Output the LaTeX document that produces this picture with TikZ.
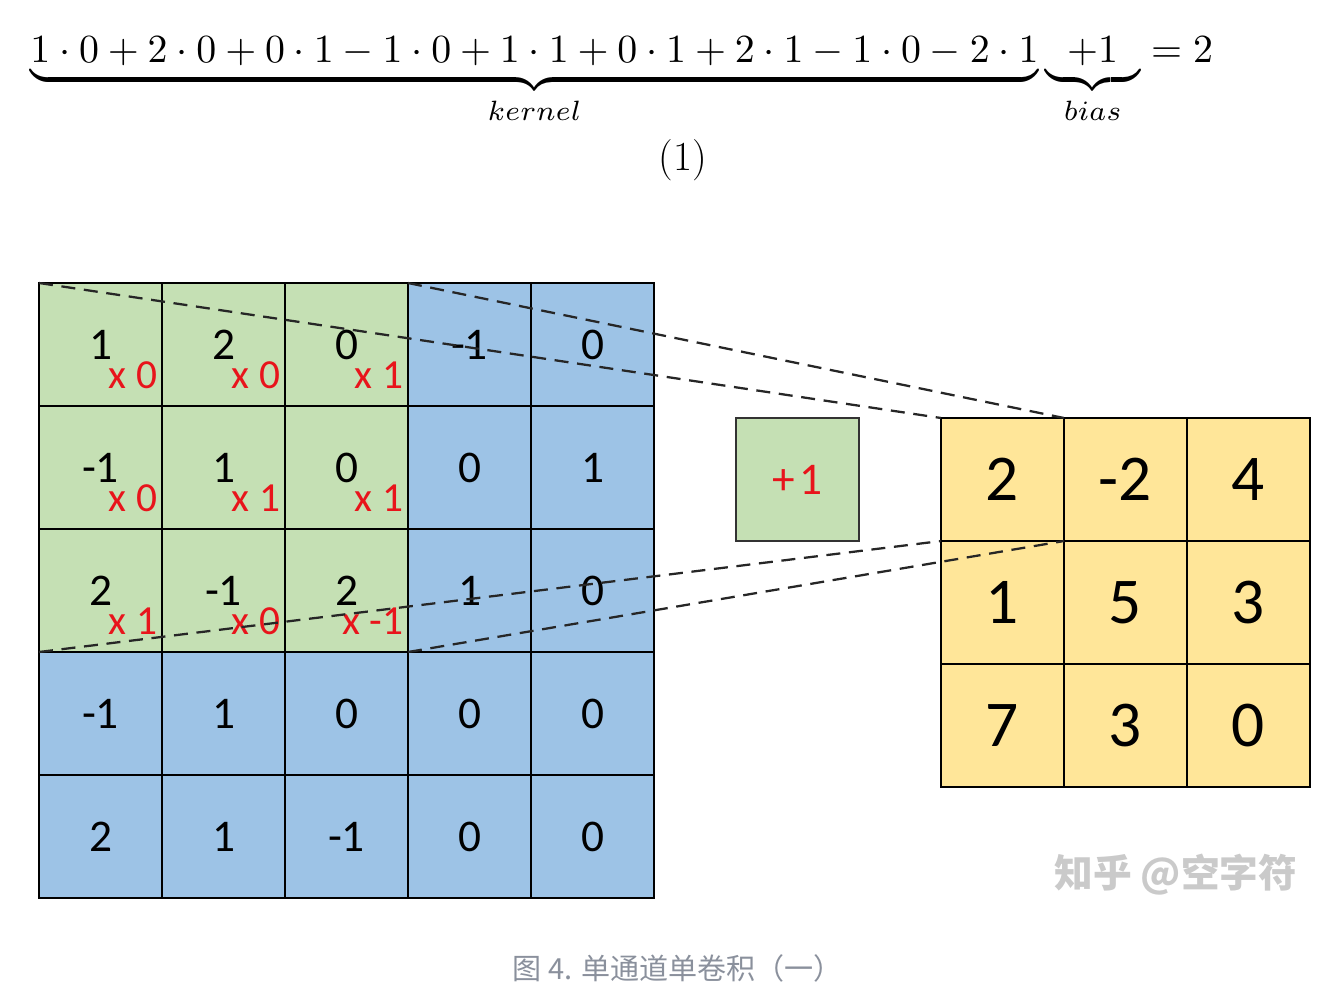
\documentclass[tikz,border=0pt]{standalone}
\usepackage{amsmath}
\usepackage{graphicx}
\usepackage{fontspec}
\newfontfamily\carl{Carlito}
\newfontfamily\cjkf{Noto Sans CJK SC}
\definecolor{kgreen}{HTML}{C5E0B4}
\definecolor{iblue}{HTML}{9DC3E6}
\definecolor{oyel}{HTML}{FFE699}
\definecolor{kred}{HTML}{E8141B}
\definecolor{capgray}{HTML}{8A909C}
\definecolor{wmgray}{HTML}{CACACA}
\tikzset{
  cellbox/.style={draw=black, line width=2.2pt, minimum width=92.25pt, minimum height=92.25pt,
    inner sep=0pt, outer sep=0pt, font=\carl\fontsize{34}{38}\selectfont},
  outcell/.style={cellbox, fill=oyel, font=\carl\fontsize{49}{54}\selectfont},
  multlbl/.style={anchor=base east, inner sep=0pt, text=kred, font=\carl\fontsize{31}{34}\selectfont},
  dl/.style={dashed, dash pattern=on 10.5pt off 6.5pt, line width=1.7pt, black!85}
}
\begin{document}
\begin{tikzpicture}[x=0.75pt,y=-0.75pt]
\useasboundingbox (0,0) rectangle (1338,996);
% equation
\node[inner sep=0pt, anchor=base west] (eq) at (30,62) {\resizebox{887pt}{!}{$\displaystyle
  \underbrace{1\cdot0+2\cdot0+0\cdot1-1\cdot0+1\cdot1+0\cdot1+2\cdot1-1\cdot0-2\cdot1}_{kernel}
  \underbrace{\hspace{0.55em}+1\hspace{0.55em}}_{bias}=2$}};
\node[inner sep=0pt, font=\fontsize{31}{36}\selectfont] (eqnum) at (683,160) {(1)};
% input grid
\foreach \rowvals [count=\r from 0] in {{1,2,0,-1,0},{-1,1,0,0,1},{2,-1,2,1,0},{-1,1,0,0,0},{2,1,-1,0,0}} {
  \foreach \v [count=\c from 0] in \rowvals {
    \def\cellcol{iblue}
    \ifnum\r<3 \ifnum\c<3 \def\cellcol{kgreen}\fi\fi
    \node[cellbox, fill=\cellcol] (in-\r-\c) at ({100.5+123*\c},{344.5+123*\r}) {\v};
  }
}
% kernel multipliers
\foreach \rowvals [count=\r from 0] in {{0,0,1},{0,1,1},{1,0,-1}} {
  \foreach \v [count=\c from 0] in \rowvals {
    \node[multlbl] (k-\r-\c) at ([xshift=-3.5pt,yshift=13.5pt]in-\r-\c.south east) {x \v};
  }
}
% bias
\node[cellbox, fill=kgreen, line width=1.6pt, draw=black!80, text=kred] (bias) at (797.5,479.5) {+\hspace{3pt}1};
% output grid
\foreach \rowvals [count=\r from 0] in {{2,-2,4},{1,5,3},{7,3,0}} {
  \foreach \v [count=\c from 0] in \rowvals {
    \node[outcell] (out-\r-\c) at ({1002.5+123*\c},{479.5+123*\r}) {\v};
  }
}
% projection lines
\draw[dl] (in-0-0.north west) -- (out-0-0.north west);
\draw[dl] (in-0-2.north east) -- (out-0-0.north east);
\draw[dl] (in-2-0.south west) -- (out-0-0.south west);
\draw[dl] (in-2-2.south east) -- (out-0-0.south east);
% watermark and caption
\node[text=wmgray, font=\cjkf\bfseries\fontsize{29}{34}\selectfont] (wm) at (1176,875) {知乎 @空字符};
\node[text=capgray, font=\cjkf\fontsize{21.8}{26}\selectfont] (cap) at (678,968) {图 4. 单通道单卷积（一）};
\end{tikzpicture}
\end{document}
